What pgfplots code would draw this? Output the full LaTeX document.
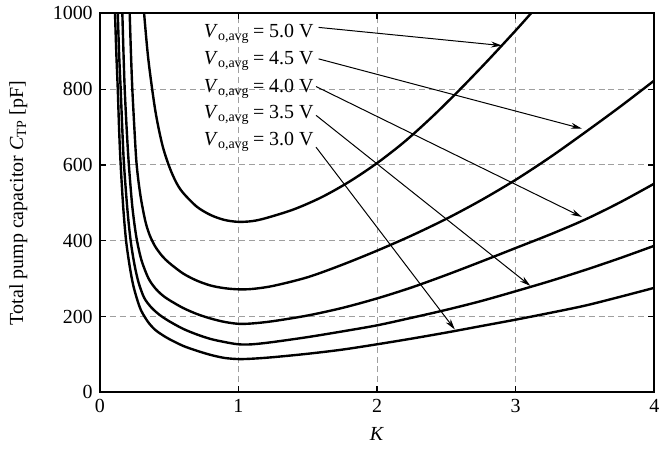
\documentclass[border=0pt]{standalone}
\usepackage{fontspec}
\setmainfont{Liberation Serif}
\usepackage{pgfplots}
\pgfplotsset{compat=1.18}
\usetikzlibrary{arrows.meta}
\begin{document}
\begin{tikzpicture}
\begin{axis}[name=ax, at={(0,0)}, anchor=south west,
  scale only axis, width=278pt, height=190pt,
  xmin=0, xmax=4, ymin=0, ymax=1000,
  xtick={0,1,2,3,4}, ytick={0,200,400,600,800,1000},
  grid=major, major grid style={densely dashed, gray!75, line width=0.5pt},
  axis line style={line width=1pt},
  tick style={black, line width=0.6pt}, tick align=inside, major tick length=3pt,
  /pgf/number format/assume math mode=true,
  /pgf/number format/1000 sep={},
  ticklabel style={font=\fontsize{10}{12}\selectfont},
  label style={font=\fontsize{10}{12}\selectfont},
  xlabel={\textit{K}},
  ylabel={Total pump capacitor \textit{C}\textsubscript{TP} [pF]},
  xlabel style={at={(axis description cs:0.5,-0.11)}, anchor=center},
  ylabel style={at={(axis description cs:-0.147,0.5)}, anchor=center},
  curve/.style={black, line width=1.2pt, no marks, smooth, tension=0.5},
  clip=true]
% 5.0 V
\addplot[curve] coordinates {(0.32,1000)(0.35,880)(0.40,745)(0.45,655)(0.50,597)(0.55,555)(0.60,527)(0.70,490)(0.80,468)(0.90,455)(1.00,450)(1.10,452)(1.20,460)(1.40,483)(1.60,515)(1.80,556)(2.00,605)(2.20,662)(2.40,728)(2.60,800)(2.80,876)(3.00,955)(3.11,1000)};
% 4.5 V
\addplot[curve] coordinates {(0.216,1000)(0.225,895)(0.235,800)(0.25,695)(0.264,610)(0.28,555)(0.30,505)(0.33,450)(0.36,415)(0.40,385)(0.45,360)(0.5,342)(0.6,314)(0.7,295)(0.8,282)(0.9,275)(1,272)(1.1,273)(1.25,281)(1.5,304)(1.75,337)(2,374)(2.25,414)(2.5,458)(2.75,507)(3,561)(3.25,621)(3.5,686)(3.75,753)(4,823)};
% 4.0 V
\addplot[curve] coordinates {(0.163,1000)(0.17,910)(0.18,800)(0.195,690)(0.21,600)(0.235,490)(0.264,410)(0.30,350)(0.35,302)(0.40,275)(0.45,257)(0.5,244)(0.6,223)(0.7,207)(0.8,195)(0.9,186)(1,181)(1.1,182)(1.25,188)(1.5,203)(1.75,223)(2,248)(2.25,277)(2.5,310)(2.75,345)(3,381)(3.25,417)(3.5,456)(3.75,501)(4,551)};
% 3.5 V
\addplot[curve] coordinates {(0.13,1000)(0.14,890)(0.151,800)(0.162,700)(0.175,600)(0.20,480)(0.223,400)(0.25,338)(0.28,290)(0.32,250)(0.37,225)(0.43,205)(0.5,188)(0.6,168)(0.7,153)(0.8,141)(0.9,133)(1,127)(1.1,127)(1.25,133)(1.5,146)(1.75,161)(2,177)(2.25,197)(2.5,218)(2.75,241)(3,267)(3.25,294)(3.5,323)(3.75,354)(4,387)};
% 3.0 V
\addplot[curve] coordinates {(0.11,1000)(0.12,890)(0.13,800)(0.14,690)(0.151,600)(0.17,485)(0.19,400)(0.215,335)(0.24,285)(0.27,245)(0.30,215)(0.35,185)(0.40,165)(0.45,152)(0.5,141)(0.6,123)(0.7,110)(0.8,99)(0.9,91)(1,88)(1.1,89)(1.25,93)(1.5,102)(1.75,113)(2,127)(2.25,142)(2.5,158)(2.75,175)(3,192)(3.25,210)(3.5,229)(3.75,252)(4,276)};
% labels and arrows
\begin{scope}[every node/.style={anchor=east, inner sep=0pt, font=\fontsize{10}{12}\selectfont}]
\node at (axis cs:1.545,946) {\textit{V}\textsubscript{o,avg}\,= 5.0 V};
\node at (axis cs:1.545,875) {\textit{V}\textsubscript{o,avg}\,= 4.5 V};
\node at (axis cs:1.545,802) {\textit{V}\textsubscript{o,avg}\,= 4.0 V};
\node at (axis cs:1.545,731) {\textit{V}\textsubscript{o,avg}\,= 3.5 V};
\node at (axis cs:1.545,660) {\textit{V}\textsubscript{o,avg}\,= 3.0 V};
\end{scope}
\begin{scope}[line width=0.5pt, -{Stealth[length=5.5pt,width=3pt]}]
\draw (axis cs:1.578,963) -- (axis cs:2.901,915);
\draw (axis cs:1.578,880) -- (axis cs:3.477,696);
\draw (axis cs:1.56,807) -- (axis cs:3.477,463);
\draw (axis cs:1.56,731) -- (axis cs:3.106,281);
\draw (axis cs:1.56,647) -- (axis cs:2.561,166);
\end{scope}
\end{axis}
\path[use as bounding box] ([xshift=-50pt,yshift=-28.65pt]ax.south west) rectangle ([xshift=5pt,yshift=6.35pt]ax.north east);
\end{tikzpicture}
\end{document}
